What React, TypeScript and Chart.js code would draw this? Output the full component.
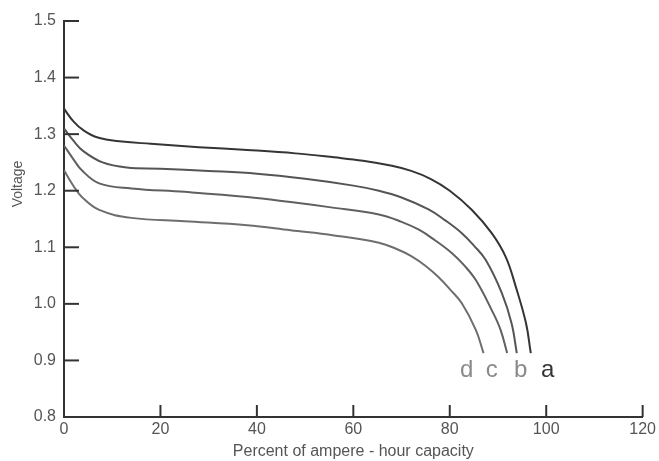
import React, { useEffect, useRef } from "react";
import { Chart, registerables } from "chart.js";

Chart.register(...registerables);

const xA = [0, 2, 4, 7, 12, 18, 28, 38, 48, 56, 62, 68, 72, 76, 80, 84.6, 88.7, 91.6, 93.7, 95.8, 96.8];
const vA = [1.345, 1.322, 1.307, 1.294, 1.287, 1.283, 1.277, 1.272, 1.266, 1.259, 1.253, 1.244, 1.235, 1.221, 1.2, 1.166, 1.125, 1.083, 1.03, 0.966, 0.913];

const xB = [0, 2, 4, 8, 13, 20, 30, 40, 50, 60, 65.3, 70, 75.6, 79, 82.5, 85, 87.5, 90.8, 92.8, 93.9];
const vB = [1.31, 1.288, 1.27, 1.25, 1.241, 1.239, 1.235, 1.23, 1.221, 1.209, 1.2, 1.188, 1.167, 1.148, 1.125, 1.103, 1.077, 1.019, 0.966, 0.913];

const xC = [0, 2, 3.7, 7.3, 14, 25, 38, 47, 55, 65.3, 70, 73.6, 77, 80.4, 83, 85.4, 88.7, 90.5, 91.9];
const vC = [1.28, 1.255, 1.236, 1.213, 1.204, 1.198, 1.189, 1.18, 1.171, 1.158, 1.145, 1.131, 1.112, 1.09, 1.068, 1.042, 0.989, 0.955, 0.913];

const xD = [0, 2, 3.7, 7.3, 14, 25, 38, 47, 56, 65.3, 69, 72.1, 75, 77.7, 80, 82.5, 85.4, 87];
const vD = [1.236, 1.208, 1.189, 1.166, 1.152, 1.146, 1.139, 1.13, 1.121, 1.108, 1.097, 1.084, 1.067, 1.047, 1.026, 1.001, 0.954, 0.913];

const curveNames = ["a", "b", "c", "d"];
const curveColors = ["#353535", "#555555", "#606060", "#6e6e6e"];

const labelTexts = ["d", "c", "b", "a"];
const labelXs = [83.5, 88.7, 94.7, 100.3];
const labelY = 0.883;
const labelColors = ["#8a8a8a", "#8a8a8a", "#8a8a8a", "#333333"];

const xTicksMin = 0;
const xTicksMax = 120;
const xStep = 20;
const yMin = 0.8;
const yMax = 1.5;
const yStep = 0.1;

const xTitle = "Percent of ampere - hour capacity";
const yTitle = "Voltage";

const FONT = "'Liberation Sans', Arial, sans-serif";

function toPts(xs: number[], vs: number[]) {
  return xs.map((x, i) => ({ x, y: vs[i] }));
}

const decorPlugin = {
  id: "decor",
  afterDraw(chart: any) {
    const ctx = chart.ctx;
    const xs = chart.scales.x;
    const ys = chart.scales.y;
    ctx.save();
    ctx.strokeStyle = "#333";
    ctx.lineWidth = 2;
    ys.ticks.forEach((t: any) => {
      const py = ys.getPixelForValue(t.value);
      ctx.beginPath();
      ctx.moveTo(xs.left, py);
      ctx.lineTo(xs.left + 15, py);
      ctx.stroke();
    });
    xs.ticks.forEach((t: any) => {
      const px = xs.getPixelForValue(t.value);
      ctx.beginPath();
      ctx.moveTo(px, ys.bottom);
      ctx.lineTo(px, ys.bottom - 12);
      ctx.stroke();
    });
    ctx.font = `24px ${FONT}`;
    ctx.textAlign = "center";
    ctx.textBaseline = "middle";
    labelTexts.forEach((s, i) => {
      ctx.fillStyle = labelColors[i];
      ctx.fillText(s, xs.getPixelForValue(labelXs[i]), ys.getPixelForValue(labelY));
    });
    ctx.translate(18, 184);
    ctx.rotate(-Math.PI / 2);
    ctx.font = `14px ${FONT}`;
    ctx.fillStyle = "#555";
    ctx.fillText(yTitle, 0, 0);
    ctx.restore();
  },
};

export default function App() {
  const ref = useRef<HTMLCanvasElement | null>(null);
  useEffect(() => {
    if (!ref.current) return;
    const series = [toPts(xA, vA), toPts(xB, vB), toPts(xC, vC), toPts(xD, vD)];
    const chart = new Chart(ref.current, {
      type: "line",
      data: {
        datasets: series.map((d, i) => ({
          label: curveNames[i],
          data: d,
          borderColor: curveColors[i],
          borderWidth: 2,
          pointRadius: 0,
          fill: false,
          tension: 0.4,
        })),
      },
      options: {
        animation: false,
        responsive: false,
        maintainAspectRatio: false,
        layout: { padding: { left: 0, top: 21, right: 15, bottom: 0 } },
        plugins: { legend: { display: false }, tooltip: { enabled: false } },
        scales: {
          x: {
            type: "linear",
            min: xTicksMin,
            max: xTicksMax,
            ticks: { stepSize: xStep, color: "#555", font: { size: 16, family: FONT }, padding: 3 },
            grid: { display: false, drawTicks: false },
            border: { display: true, color: "#333", width: 2 },
            title: { display: true, text: xTitle, color: "#555", font: { size: 16, family: FONT }, padding: { top: 0, bottom: 0 } },
            afterFit: (s: any) => { s.height = 44; },
          },
          y: {
            type: "linear",
            min: yMin,
            max: yMax,
            ticks: {
              stepSize: yStep,
              color: "#555",
              font: { size: 16, family: FONT },
              padding: 8,
              callback: (v: any) => Number(v).toFixed(1),
            },
            grid: { display: false, drawTicks: false },
            border: { display: true, color: "#333", width: 2 },
            afterFit: (s: any) => { s.width = 64; },
          },
        },
      },
      plugins: [decorPlugin],
    });
    return () => chart.destroy();
  }, []);
  return (
    <div style={{ position: "fixed", left: 0, top: 0, width: 659, height: 461, background: "#fff" }}>
      <canvas ref={ref} width={659} height={461} style={{ width: 659, height: 461 }} />
    </div>
  );
}
